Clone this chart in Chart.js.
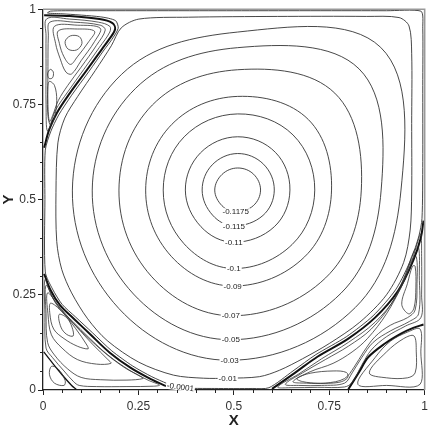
<!DOCTYPE html>
<html>
<head>
<meta charset="utf-8">
<script src="https://cdn.jsdelivr.net/npm/chart.js@4.4.1/dist/chart.umd.min.js"></script>
<style>
  html, body { margin: 0; padding: 0; background: #fff; }
</style>
</head>
<body>
<canvas id="chart" width="432" height="430"></canvas>
<script>
// axis ticks
const majorTicks = [0, 0.25, 0.5, 0.75, 1];
const majorTickLabels = ["0", "0.25", "0.5", "0.75", "1"];
const minorTicks = [0.05, 0.1, 0.15, 0.2, 0.3, 0.35, 0.4, 0.45, 0.55, 0.6, 0.65, 0.7, 0.8, 0.85, 0.9, 0.95];

// main vortex: labelled stream function levels, label spot (bottom of each ring)
// and the reach of each ring from the vortex centre in the other 7 directions
const vortexCenter = [0.51, 0.525];
const ringLevels = ["-0.1175", "-0.115", "-0.11", "-0.1", "-0.09", "-0.07", "-0.05", "-0.03"];
const ringLabelX = [0.505, 0.50, 0.50, 0.50, 0.497, 0.492, 0.492, 0.489];
const ringLabelY = [0.468, 0.431, 0.388, 0.319, 0.273, 0.195, 0.132, 0.078];
const reachSE = [0.058, 0.094, 0.136, 0.202, 0.248, 0.326, 0.383, 0.436];
const reachE  = [0.060, 0.096, 0.137, 0.202, 0.246, 0.324, 0.376, 0.428];
const reachNE = [0.059, 0.096, 0.140, 0.205, 0.262, 0.360, 0.450, 0.530];
const reachN  = [0.058, 0.096, 0.140, 0.200, 0.246, 0.316, 0.374, 0.415];
const reachNW = [0.058, 0.094, 0.138, 0.198, 0.244, 0.316, 0.378, 0.430];
const reachW  = [0.060, 0.093, 0.137, 0.195, 0.241, 0.311, 0.381, 0.433];
const reachSW = [0.058, 0.093, 0.136, 0.199, 0.246, 0.320, 0.386, 0.440];

// outer main contours (first point = label spot)
const level001 = "-0.01";
const contour001 = [
  [0.484, 0.031], [0.567, 0.035], [0.62, 0.052], [0.68, 0.082], [0.75, 0.122], [0.83, 0.178],
  [0.90, 0.25], [0.945, 0.335], [0.962, 0.42], [0.966, 0.52], [0.966, 0.70], [0.966, 0.883],
  [0.959, 0.956], [0.933, 0.978], [0.847, 0.981], [0.614, 0.981], [0.381, 0.979], [0.251, 0.974],
  [0.205, 0.951], [0.179, 0.904], [0.137, 0.839], [0.091, 0.771], [0.057, 0.714], [0.039, 0.649],
  [0.034, 0.519], [0.036, 0.39], [0.049, 0.317], [0.075, 0.255], [0.117, 0.187], [0.168, 0.13],
  [0.251, 0.073], [0.342, 0.039], [0.42, 0.031]
];
const level00001 = "-0.0001";
const contour00001 = [
  [0.36, 0.005], [0.45, 0.004], [0.55, 0.004], [0.592, 0.006], [0.655, 0.05], [0.715, 0.093],
  [0.795, 0.14], [0.865, 0.195], [0.925, 0.265], [0.965, 0.345], [0.985, 0.405], [0.993, 0.45],
  [0.995, 0.6], [0.995, 0.8], [0.995, 0.95], [0.99, 0.995], [0.9, 0.996], [0.5, 0.996],
  [0.1, 0.996], [0.02, 0.995], [0.012, 0.99], [0.05, 0.988], [0.15, 0.98], [0.19, 0.97],
  [0.197, 0.95], [0.18, 0.92], [0.16, 0.893], [0.12, 0.836], [0.075, 0.774], [0.041, 0.722],
  [0.02, 0.678], [0.006, 0.63], [0.005, 0.5], [0.006, 0.31], [0.025, 0.265], [0.05, 0.225],
  [0.085, 0.192], [0.13, 0.15], [0.18, 0.103], [0.235, 0.063], [0.285, 0.035], [0.325, 0.017],
  [0.345, 0.009]
];

// dividing streamlines of the corner eddies
const sepTopLeft = [
  [0.003, 0.984], [0.07, 0.982], [0.148, 0.974], [0.181, 0.964], [0.189, 0.948], [0.174, 0.922],
  [0.155, 0.896], [0.114, 0.839], [0.07, 0.779], [0.036, 0.727], [0.016, 0.683], [0.003, 0.636]
];
const sepBottomLeft = [
  [0.003, 0.305], [0.02, 0.262], [0.045, 0.222], [0.08, 0.188], [0.125, 0.145], [0.175, 0.098],
  [0.23, 0.058], [0.28, 0.03], [0.318, 0.012], [0.34, 0.003]
];
const sepBottomLeftCorner = [[0.002, 0.1], [0.02, 0.077], [0.05, 0.04], [0.075, 0.012], [0.087, 0.002]];
const sepBottomRight = [
  [0.60, 0.003], [0.66, 0.045], [0.72, 0.088], [0.80, 0.135], [0.87, 0.19], [0.93, 0.26],
  [0.97, 0.34], [0.99, 0.40], [0.997, 0.445]
];
const sepBottomRightCorner = [
  [0.80, 0.002], [0.83, 0.05], [0.852, 0.086], [0.896, 0.122], [0.938, 0.148], [0.97, 0.163], [0.997, 0.172]
];

// closed streamlines inside the eddies
const eddyTopLeft = [
  [[0.058, 0.915], [0.072, 0.93], [0.095, 0.928], [0.102, 0.91], [0.088, 0.893], [0.066, 0.895]],
  [[0.04, 0.943], [0.09, 0.948], [0.135, 0.942], [0.12, 0.915], [0.09, 0.875], [0.072, 0.855], [0.055, 0.875], [0.043, 0.91]],
  [[0.03, 0.955], [0.09, 0.958], [0.15, 0.95], [0.135, 0.915], [0.1, 0.865], [0.075, 0.83], [0.06, 0.835], [0.045, 0.87], [0.033, 0.91]],
  [[0.012, 0.83], [0.019, 0.842], [0.027, 0.835], [0.025, 0.82], [0.016, 0.818]],
  [[0.016, 0.81], [0.03, 0.8], [0.036, 0.76], [0.03, 0.715], [0.02, 0.695], [0.013, 0.72], [0.012, 0.78]],
  [[0.018, 0.966], [0.08, 0.966], [0.15, 0.958], [0.163, 0.945], [0.14, 0.905], [0.1, 0.848], [0.065, 0.8], [0.04, 0.76], [0.025, 0.72], [0.017, 0.705], [0.013, 0.75], [0.013, 0.85], [0.014, 0.93]],
  [[0.01, 0.975], [0.07, 0.974], [0.145, 0.966], [0.175, 0.955], [0.175, 0.94], [0.148, 0.9], [0.107, 0.842], [0.065, 0.783], [0.033, 0.735], [0.012, 0.68], [0.008, 0.75], [0.008, 0.85], [0.008, 0.93]]
];
const eddyBottomLeft = [
  [[0.042, 0.198], [0.062, 0.19], [0.076, 0.165], [0.079, 0.142], [0.062, 0.146], [0.047, 0.165]],
  [[0.02, 0.228], [0.05, 0.205], [0.085, 0.162], [0.115, 0.118], [0.118, 0.108], [0.09, 0.115], [0.055, 0.135], [0.028, 0.16], [0.018, 0.2]],
  [[0.012, 0.255], [0.04, 0.222], [0.08, 0.175], [0.13, 0.12], [0.17, 0.08], [0.178, 0.07], [0.14, 0.068], [0.09, 0.08], [0.05, 0.11], [0.022, 0.145], [0.013, 0.2]],
  [[0.008, 0.275], [0.03, 0.235], [0.065, 0.19], [0.11, 0.145], [0.165, 0.095], [0.215, 0.058], [0.255, 0.036], [0.262, 0.03], [0.22, 0.026], [0.15, 0.027], [0.1, 0.033], [0.065, 0.055], [0.03, 0.092], [0.012, 0.125], [0.008, 0.2]],
  [[0.005, 0.29], [0.02, 0.253], [0.042, 0.215], [0.078, 0.18], [0.12, 0.138], [0.17, 0.092], [0.225, 0.053], [0.275, 0.026], [0.305, 0.013], [0.29, 0.01], [0.22, 0.009], [0.14, 0.009], [0.095, 0.012], [0.08, 0.022], [0.055, 0.05], [0.025, 0.085], [0.008, 0.11], [0.005, 0.2]],
  [[0.022, 0.062], [0.04, 0.055], [0.058, 0.025], [0.055, 0.012], [0.03, 0.018], [0.017, 0.04]]
];
const eddyBottomRight = [
  [[0.615, 0.008], [0.67, 0.042], [0.73, 0.082], [0.80, 0.125], [0.87, 0.178], [0.925, 0.245], [0.962, 0.325], [0.982, 0.39], [0.99, 0.41], [0.992, 0.35], [0.992, 0.25], [0.99, 0.19], [0.95, 0.168], [0.9, 0.14], [0.86, 0.105], [0.835, 0.065], [0.81, 0.02], [0.79, 0.008], [0.72, 0.007], [0.65, 0.006]],
  [[0.635, 0.015], [0.68, 0.045], [0.74, 0.08], [0.80, 0.115], [0.86, 0.16], [0.915, 0.23], [0.95, 0.305], [0.972, 0.365], [0.984, 0.375], [0.986, 0.3], [0.984, 0.2], [0.96, 0.18], [0.91, 0.155], [0.865, 0.125], [0.835, 0.085], [0.81, 0.045], [0.79, 0.018], [0.73, 0.012], [0.67, 0.012]],
  [[0.655, 0.022], [0.70, 0.048], [0.76, 0.07], [0.81, 0.1], [0.85, 0.135], [0.9, 0.2], [0.94, 0.275], [0.965, 0.34], [0.978, 0.35], [0.98, 0.28], [0.975, 0.21], [0.955, 0.19], [0.91, 0.17], [0.87, 0.14], [0.84, 0.1], [0.815, 0.06], [0.79, 0.03], [0.74, 0.018], [0.69, 0.018]],
  [[0.665, 0.03], [0.70, 0.044], [0.76, 0.05], [0.795, 0.046], [0.798, 0.032], [0.775, 0.02], [0.72, 0.018], [0.68, 0.022]],
  [[0.94, 0.225], [0.955, 0.28], [0.968, 0.325], [0.975, 0.325], [0.977, 0.27], [0.972, 0.215], [0.958, 0.2]],
  [[0.855, 0.045], [0.9, 0.1], [0.945, 0.135], [0.972, 0.142], [0.978, 0.1], [0.975, 0.045], [0.955, 0.032], [0.9, 0.032]],
  [[0.825, 0.015], [0.87, 0.085], [0.91, 0.128], [0.955, 0.152], [0.988, 0.16], [0.99, 0.1], [0.988, 0.015], [0.9, 0.012]]
];

const lineColor = "#333";
const fontFamily = '"Liberation Sans", Arial, Helvetica, sans-serif';

function toXY(list) {
  return list.map(p => ({ x: p[0], y: p[1] }));
}

// closed curve: pad with wrap-around points so the spline is smooth, hide the pads
function loopSet(points, width, color, tension) {
  const n = points.length;
  const pts = toXY([points[n - 1], ...points, points[0], points[1]]);
  const last = pts.length - 2;
  return {
    data: pts, showLine: true, borderColor: color, borderWidth: width,
    tension: tension, pointRadius: 0, fill: false,
    segment: {
      borderColor: c => (c.p0DataIndex === 0 || c.p0DataIndex === last) ? "rgba(0,0,0,0)" : undefined
    }
  };
}

function openSet(points, width, color) {
  return {
    data: toXY(points), showLine: true, borderColor: color, borderWidth: width,
    tension: 0.35, pointRadius: 0, fill: false
  };
}

function ringPoints(i) {
  const d = Math.SQRT1_2;
  const cx = vortexCenter[0], cy = vortexCenter[1];
  return [
    [ringLabelX[i], ringLabelY[i]],
    [cx + reachSE[i] * d, cy - reachSE[i] * d],
    [cx + reachE[i], cy],
    [cx + reachNE[i] * d, cy + reachNE[i] * d],
    [cx, cy + reachN[i]],
    [cx - reachNW[i] * d, cy + reachNW[i] * d],
    [cx - reachW[i], cy],
    [cx - reachSW[i] * d, cy - reachSW[i] * d]
  ];
}

const datasets = [];
eddyTopLeft.forEach(l => datasets.push(loopSet(l, 0.8, lineColor, 0.35)));
eddyBottomLeft.forEach(l => datasets.push(loopSet(l, 0.8, lineColor, 0.35)));
eddyBottomRight.forEach(l => datasets.push(loopSet(l, 0.8, lineColor, 0.35)));
ringLevels.forEach((lv, i) => datasets.push(loopSet(ringPoints(i), 0.9, lineColor, 0.375)));
datasets.push(loopSet(contour001, 0.9, lineColor, 0.3));
datasets.push(loopSet(contour00001, 0.9, lineColor, 0.25));
[sepTopLeft, sepBottomLeft, sepBottomRight, sepBottomRightCorner].forEach(s => datasets.push(openSet(s, 2, "#111")));
datasets.push(openSet(sepBottomLeftCorner, 1.3, "#111"));

// minor ticks on the left and bottom axes
const minorTickPlugin = {
  id: "minorTicks",
  afterDraw(chart) {
    const { ctx, scales: { x, y }, chartArea: a } = chart;
    ctx.save();
    ctx.strokeStyle = "#222";
    ctx.lineWidth = 1;
    ctx.beginPath();
    minorTicks.forEach(v => {
      const px = Math.round(x.getPixelForValue(v)) + 0.5;
      ctx.moveTo(px, a.bottom);
      ctx.lineTo(px, a.bottom + 3);
      const py = Math.round(y.getPixelForValue(v)) + 0.5;
      ctx.moveTo(a.left, py);
      ctx.lineTo(a.left - 3, py);
    });
    ctx.stroke();
    ctx.restore();
  }
};

// grey frame on top and right
const framePlugin = {
  id: "frame",
  afterDatasetsDraw(chart) {
    const { ctx, chartArea: a } = chart;
    ctx.save();
    ctx.strokeStyle = "#999";
    ctx.lineWidth = 1.6;
    ctx.beginPath();
    ctx.moveTo(a.left, a.top);
    ctx.lineTo(a.right, a.top);
    ctx.lineTo(a.right, a.bottom);
    ctx.stroke();
    ctx.restore();
  }
};

// contour labels with a white gap in the line
const labelPlugin = {
  id: "contourLabels",
  afterDatasetsDraw(chart) {
    const { ctx, scales: { x, y } } = chart;
    const items = ringLevels.map((t, i) => [t, ringLabelX[i], ringLabelY[i], 0]);
    items.push([level001, contour001[0][0], contour001[0][1], 0]);
    items.push([level00001, contour00001[0][0], contour00001[0][1] + 0.003, 0.12]);
    ctx.save();
    ctx.font = "8px " + fontFamily;
    ctx.textAlign = "center";
    ctx.textBaseline = "middle";
    items.forEach(([t, vx, vy, rot]) => {
      const px = x.getPixelForValue(vx);
      const py = y.getPixelForValue(vy);
      const w = ctx.measureText(t).width;
      ctx.save();
      ctx.translate(px, py);
      ctx.rotate(rot);
      ctx.fillStyle = "#fff";
      ctx.fillRect(-w / 2 - 1, -3.5, w + 2, 7);
      ctx.fillStyle = "#222";
      ctx.fillText(t, 0, 0.5);
      ctx.restore();
    });
    ctx.restore();
  }
};

function axisOptions(isX) {
  return {
    type: "linear",
    min: 0,
    max: 1,
    afterBuildTicks: s => { s.ticks = majorTicks.map(v => ({ value: v })); },
    afterFit: s => { if (isX) { s.height = 40; } else { s.width = 43; } },
    ticks: {
      callback: (v, i) => majorTickLabels[i],
      font: { family: fontFamily, size: 12 },
      color: "#333",
      padding: isX ? 4 : 2,
      maxRotation: 0,
      autoSkip: false
    },
    grid: { drawOnChartArea: false, drawTicks: true, tickLength: 5, tickColor: "#222", tickWidth: 1 },
    border: { display: true, color: "#222", width: 1.3 },
    title: {
      display: true,
      text: isX ? "X" : "Y",
      font: { family: fontFamily, size: 15, weight: "bold" },
      color: "#222",
      padding: { top: 0, bottom: 0 }
    }
  };
}

new Chart(document.getElementById("chart").getContext("2d"), {
  type: "scatter",
  data: { datasets: datasets },
  options: {
    responsive: false,
    animation: false,
    layout: { padding: { top: 5, right: 0, left: 0, bottom: 0 } },
    plugins: { legend: { display: false }, tooltip: { enabled: false } },
    elements: { point: { radius: 0 } },
    scales: { x: axisOptions(true), y: axisOptions(false) }
  },
  plugins: [minorTickPlugin, framePlugin, labelPlugin]
});
</script>
</body>
</html>
